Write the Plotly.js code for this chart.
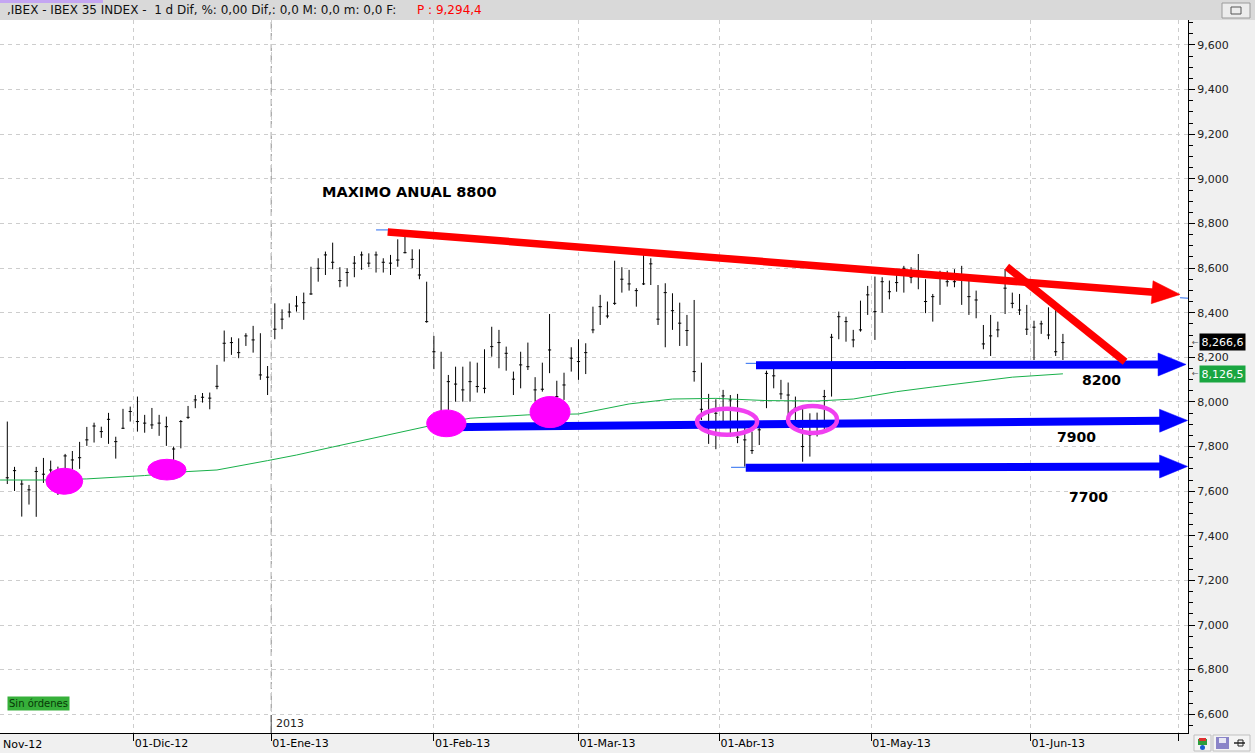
<!DOCTYPE html>
<html>
<head>
<meta charset="utf-8">
<script src="https://cdn.plot.ly/plotly-3.0.1.min.js"></script>
<style>html,body{margin:0;padding:0;background:#f0f0f0;}#chart{width:1255px;height:753px;}</style>
</head>
<body>
<div id="chart"></div>
<script>
// ---- trading days shown (categories) ----
const dates = [
'2012-11-07','2012-11-08','2012-11-09','2012-11-12','2012-11-13','2012-11-14','2012-11-15','2012-11-16','2012-11-19','2012-11-20','2012-11-21','2012-11-22','2012-11-23','2012-11-26','2012-11-27','2012-11-28','2012-11-29','2012-11-30',
'2012-12-03','2012-12-04','2012-12-05','2012-12-06','2012-12-07','2012-12-10','2012-12-11','2012-12-12','2012-12-13','2012-12-14','2012-12-17','2012-12-18','2012-12-19','2012-12-20','2012-12-21','2012-12-24','2012-12-27','2012-12-28','2012-12-31',
'2013-01-02','2013-01-03','2013-01-04','2013-01-07','2013-01-08','2013-01-09','2013-01-10','2013-01-11','2013-01-14','2013-01-15','2013-01-16','2013-01-17','2013-01-18','2013-01-21','2013-01-22','2013-01-23','2013-01-24','2013-01-25','2013-01-28','2013-01-29','2013-01-30','2013-01-31',
'2013-02-01','2013-02-04','2013-02-05','2013-02-06','2013-02-07','2013-02-08','2013-02-11','2013-02-12','2013-02-13','2013-02-14','2013-02-15','2013-02-18','2013-02-19','2013-02-20','2013-02-21','2013-02-22','2013-02-25','2013-02-26','2013-02-27','2013-02-28',
'2013-03-01','2013-03-04','2013-03-05','2013-03-06','2013-03-07','2013-03-08','2013-03-11','2013-03-12','2013-03-13','2013-03-14','2013-03-15','2013-03-18','2013-03-19','2013-03-20','2013-03-21','2013-03-22','2013-03-25','2013-03-26','2013-03-27','2013-03-28',
'2013-04-02','2013-04-03','2013-04-04','2013-04-05','2013-04-08','2013-04-09','2013-04-10','2013-04-11','2013-04-12','2013-04-15','2013-04-16','2013-04-17','2013-04-18','2013-04-19','2013-04-22','2013-04-23','2013-04-24','2013-04-25','2013-04-26','2013-04-29','2013-04-30',
'2013-05-02','2013-05-03','2013-05-06','2013-05-07','2013-05-08','2013-05-09','2013-05-10','2013-05-13','2013-05-14','2013-05-15','2013-05-16','2013-05-17','2013-05-20','2013-05-21','2013-05-22','2013-05-23','2013-05-24','2013-05-27','2013-05-28','2013-05-29','2013-05-30','2013-05-31',
'2013-06-03','2013-06-04','2013-06-05','2013-06-06','2013-06-07'
];
// trading days of the axis outside the data (before / after)
const leadDates = ['2012-11-01','2012-11-02','2012-11-05','2012-11-06'];
const trailDates = ['2013-06-10','2013-06-11','2013-06-12','2013-06-13','2013-06-14','2013-06-17','2013-06-18','2013-06-19','2013-06-20','2013-06-21','2013-06-24','2013-06-25','2013-06-26','2013-06-27','2013-06-28','2013-07-01'];

// ---- daily bars (high / low / close) ----
const high = [
7912,7709,7650,7628,7709,7749,7737,7710,7767,7780,7821,7888,7907,7889,7951,7844,7969,7979,
8024,7942,7973,7942,7934,7800,7919,7982,8031,8040,8042,8166,8320,8290,8285,8308,8341,8308,8161,
8442,8415,8442,8475,8490,8606,8644,8674,8714,8604,8599,8654,8674,8666,8674,8644,8659,8729,8744,8684,8684,8539,
8296,8225,8121,8158,8158,8181,8176,8236,8337,8323,8248,8136,8225,8266,8111,8176,8394,8095,8131,8245,
8281,8263,8427,8480,8450,8633,8604,8592,8510,8659,8644,8524,8532,8487,8445,8390,8457,8176,8036,8012,
8054,8031,8036,7912,7867,7907,8140,8151,8099,8087,8024,7972,7949,7952,8054,8305,8405,8382,8323,8454,8520,
8562,8559,8544,8574,8610,8604,8663,8550,8484,8588,8588,8595,8610,8544,8499,8345,8390,8360,8595,8490,8484,8435,
8364,8364,8424,8412,8305
];
const low = [
7632,7601,7486,7540,7485,7637,7623,7583,7677,7695,7700,7803,7818,7839,7812,7746,7879,7912,
7867,7862,7879,7848,7803,7740,7792,7924,7972,7997,7967,8057,8181,8211,8196,8251,8221,8099,8031,
8281,8326,8379,8405,8368,8480,8539,8569,8595,8514,8517,8559,8592,8604,8580,8580,8569,8606,8666,8599,8550,8355,
8147,7900,7964,8001,8001,8001,8042,8039,8203,8151,8140,8031,8061,8143,8001,8046,8129,7990,8009,8136,
8099,8125,8308,8345,8375,8435,8490,8499,8427,8524,8524,8345,8245,8323,8251,8251,8091,7919,7812,7788,
7887,7844,7815,7710,7767,7807,7972,8061,8012,7942,7882,7732,7755,7845,7878,8024,8281,8270,8245,8315,8390,
8278,8400,8460,8494,8490,8532,8505,8398,8360,8435,8517,8514,8435,8390,8375,8236,8206,8290,8394,8420,8390,8300,
8188,8305,8281,8206,8188
];
const close = [
7660,7692,7632,7606,7688,7676,7695,7595,7758,7740,7750,7830,7892,7867,7922,7822,7882,7957,
7912,7905,7897,7905,7889,7789,7912,7931,8009,8021,8017,8070,8263,8266,8221,8296,8278,8121,8111,
8326,8371,8403,8430,8445,8484,8599,8659,8626,8544,8580,8622,8659,8622,8659,8626,8622,8636,8669,8639,8569,8360,
8225,7930,8091,8080,8054,8091,8069,8061,8248,8266,8218,8102,8166,8158,8054,8057,8233,8024,8076,8196,
8181,8221,8323,8427,8385,8442,8550,8529,8499,8529,8619,8371,8490,8409,8353,8320,8136,7967,7860,7949,
8027,8009,7842,7830,7782,7875,8128,8117,8036,8031,7972,7800,7852,7889,8024,8290,8382,8360,8278,8323,8480,
8405,8539,8494,8535,8599,8559,8577,8450,8472,8565,8539,8539,8569,8472,8457,8260,8296,8323,8510,8442,8412,8326,
8335,8350,8300,8225,8266
];

// ---- moving average (green line), read at these days ----
const maDates = ['2012-11-06','2012-11-07','2012-11-14','2012-11-22','2012-12-04','2012-12-12','2012-12-18','2012-12-31','2013-01-07','2013-01-14','2013-01-21','2013-01-28','2013-02-01','2013-02-08','2013-02-20','2013-03-01','2013-03-12','2013-03-20','2013-03-28','2013-04-10','2013-04-19','2013-04-26','2013-05-07','2013-05-14','2013-05-21','2013-05-29','2013-06-07'];
const maValues = [7650,7650,7650,7655,7670,7688,7695,7737,7762,7798,7834,7870,7897,7927,7942,7946,7991,8013,8016,8006,8004,8013,8046,8067,8088,8111,8126];

// ---- axis ticks ----
const tickDates = ['2012-12-01','2013-01-01','2013-02-01','2013-03-01','2013-04-01','2013-05-01','2013-06-01','2013-07-01'];
const tickLabels = ['01-Dic-12','01-Ene-13','01-Feb-13','01-Mar-13','01-Abr-13','01-May-13','01-Jun-13',''];
const lastPrice = 8266.6, maLast = 8126.5;

// position of a day on the trading-day axis
const calendar = leadDates.concat(dates, trailDates);
const off = leadDates.length;
function xpos(d){
  const i = calendar.indexOf(d);
  if (i >= 0) return i - off;
  const j = calendar.findIndex(c => c > d);
  return j - off - 0.5;
}
const xs = dates.map(xpos);

const XR = [-1.01, 163.3], YR = [6516, 9712];
const PW = 1188, PH = 713;
const kx = PW / (XR[1]-XR[0]), ky = PH / (YR[1]-YR[0]);

// ---- hand-drawn analysis objects ----
const lines = [
  {x0:52.61, y0:8762, x1:162.2, y1:8482, color:'#ff0000', w:7.5, head:true},
  {x0:103.55, y0:8164, x1:163.03, y1:8168, color:'#0000ff', w:8, head:true},
  {x0:61.23, y0:7887, x1:163.24, y1:7917, color:'#0000ff', w:8, head:true},
  {x0:102.13, y0:7705, x1:163.24, y1:7711, color:'#0000ff', w:8, head:true},
  {x0:138.23, y0:8606, x1:154.6, y1:8180, color:'#ff0000', w:7.5, head:false}
];
const thinLines = [
  {x0:51.0, y0:8771, x1:52.66, y1:8771},
  {x0:162.2, y0:8467, x1:163.3, y1:8465},
  {x0:102.13, y0:8173, x1:103.55, y1:8173},
  {x0:100.1, y0:7707, x1:102.13, y1:7707}
];
const ellipses = [
  {x0:5.35, x1:10.43, y0:7586, y1:7703, fill:true},
  {x0:19.42, x1:24.72, y0:7650, y1:7743, fill:true},
  {x0:58.01, x1:63.44, y0:7844, y1:7964, fill:true},
  {x0:72.3, x1:77.83, y0:7885, y1:8024, fill:true},
  {x0:95.4, x1:103.7, y0:7853, y1:7970, fill:false},
  {x0:107.98, x1:114.76, y0:7861, y1:7982, fill:false}
];

const shapes = [];
// header bar
shapes.push({type:'rect', xref:'paper', yref:'paper', x0:0, x1:1255/PW, y0:1, y1:733/PH, fillcolor:'#d9d9d9', line:{width:0}, layer:'below'});
shapes.push({type:'rect', xref:'paper', yref:'paper', x0:0, x1:103/PW, y0:730/PH, y1:733/PH, fillcolor:'#c4a6f2', line:{width:0}});
shapes.push({type:'rect', xref:'paper', yref:'paper', x0:1222/PW, x1:1250/PW, y0:(733-18)/PH, y1:(733-3)/PH, fillcolor:'#ececec', line:{width:1,color:'#9a9a9a'}});
shapes.push({type:'rect', xref:'paper', yref:'paper', x0:1231/PW, x1:1241/PW, y0:(733-14)/PH, y1:(733-7)/PH, fillcolor:'rgba(0,0,0,0)', line:{width:1,color:'#555'}});
// year separator
shapes.push({type:'line', xref:'x', yref:'paper', x0:xpos('2013-01-01'), x1:xpos('2013-01-01'), y0:0, y1:1, line:{color:'#8c8c8c', width:1, dash:'7px,4px'}, layer:'below'});
shapes.push({type:'line', xref:'x', yref:'paper', x0:xpos('2013-01-01'), x1:xpos('2013-01-01'), y0:0, y1:18/PH, line:{color:'#555', width:1}});
// bottom-right toolbar icons
shapes.push({type:'rect', xref:'paper', yref:'paper', x0:1194/PW, x1:1211/PW, y0:-18/PH, y1:-2/PH, fillcolor:'#f4f4f4', line:{width:1,color:'#c0c0c0'}});
shapes.push({type:'rect', xref:'paper', yref:'paper', x0:1198/PW, x1:1207/PW, y0:-12/PH, y1:-6/PH, fillcolor:'#2e9e3e', line:{width:0}});
shapes.push({type:'rect', xref:'paper', yref:'paper', x0:1199/PW, x1:1206/PW, y0:-8/PH, y1:-5/PH, fillcolor:'#e03030', line:{width:0}});
shapes.push({type:'circle', xref:'paper', yref:'paper', x0:1200/PW, x1:1205/PW, y0:-17/PH, y1:-12/PH, fillcolor:'#1a5fd0', line:{width:0}});
shapes.push({type:'rect', xref:'paper', yref:'paper', x0:1213/PW, x1:1250/PW, y0:-18/PH, y1:-2/PH, fillcolor:'#f4f4f4', line:{width:1,color:'#c0c0c0'}});
shapes.push({type:'rect', xref:'paper', yref:'paper', x0:1216/PW, x1:1229/PW, y0:-16/PH, y1:-4/PH, fillcolor:'#8a84c8', line:{width:0}});
shapes.push({type:'rect', xref:'paper', yref:'paper', x0:1219/PW, x1:1226/PW, y0:-10/PH, y1:-5/PH, fillcolor:'#e8e8f4', line:{width:0}});
shapes.push({type:'line', xref:'paper', yref:'paper', x0:1234/PW, x1:1245/PW, y0:-10/PH, y1:-10/PH, line:{width:1.5,color:'#222'}});
shapes.push({type:'rect', xref:'paper', yref:'paper', x0:1238/PW, x1:1243/PW, y0:-13/PH, y1:-7/PH, fillcolor:'rgba(0,0,0,0)', line:{width:1,color:'#222'}});

// thick trend lines with arrow heads
lines.forEach(l => {
  const dx = (l.x1-l.x0)*kx, dy = (l.y1-l.y0)*ky;
  const len = Math.hypot(dx, dy), ux = dx/len, uy = dy/len;
  if (l.head) {
    const L = 28, H = 11.5;
    const bx = l.x1 - ux*L/kx, by = l.y1 - uy*L/ky;
    const nx = -uy, ny = ux;
    shapes.push({type:'line', x0:l.x0, y0:l.y0, x1:bx + ux*2/kx, y1:by + uy*2/ky, line:{color:l.color, width:l.w}});
    const c1x = bx + nx*H/kx, c1y = by + ny*H/ky, c2x = bx - nx*H/kx, c2y = by - ny*H/ky;
    shapes.push({type:'path', path:`M${l.x1},${l.y1} L${c1x},${c1y} L${c2x},${c2y} Z`, fillcolor:l.color, line:{color:l.color, width:0.5}});
  } else {
    shapes.push({type:'line', x0:l.x0, y0:l.y0, x1:l.x1, y1:l.y1, line:{color:l.color, width:l.w}});
  }
});
thinLines.forEach(t => shapes.push({type:'line', x0:t.x0, y0:t.y0, x1:t.x1, y1:t.y1, line:{color:'#2a6cf0', width:1}}));
ellipses.forEach(e => {
  if (e.fill) shapes.push({type:'circle', x0:e.x0, x1:e.x1, y0:e.y0, y1:e.y1, fillcolor:'#ff00ff', line:{color:'#ff00ff', width:1}});
  else shapes.push({type:'circle', x0:e.x0, x1:e.x1, y0:e.y0, y1:e.y1, fillcolor:'rgba(0,0,0,0)', line:{color:'#f040f0', width:4.5}});
});

const FONT = 'DejaVu Sans, Liberation Sans, sans-serif';
const annotations = [
  {xref:'paper', yref:'paper', x:5/PW, y:(733-10)/PH, xanchor:'left', yanchor:'middle', showarrow:false,
   text:',IBEX - IBEX 35 INDEX -&nbsp;&nbsp;1 d Dif, %: 0,00 Dif,: 0,0 M: 0,0 m: 0,0 F:', font:{family:FONT, size:12, color:'#111'}},
  {xref:'paper', yref:'paper', x:415/PW, y:(733-10)/PH, xanchor:'left', yanchor:'middle', showarrow:false,
   text:'P : 9,294,4', font:{family:FONT, size:12, color:'#ff0000'}},
  {xref:'paper', yref:'paper', x:320/PW, y:(733-192)/PH, xanchor:'left', yanchor:'middle', showarrow:false,
   text:'MAXIMO ANUAL 8800', font:{family:'DejaVu Sans', size:14.5, color:'#000', weight:'bold'}},
  {xref:'paper', yref:'paper', x:1080/PW, y:(733-380)/PH, xanchor:'left', yanchor:'middle', showarrow:false,
   text:'8200', font:{family:'DejaVu Sans', size:14, color:'#000', weight:'bold'}},
  {xref:'paper', yref:'paper', x:1055/PW, y:(733-437)/PH, xanchor:'left', yanchor:'middle', showarrow:false,
   text:'7900', font:{family:'DejaVu Sans', size:14, color:'#000', weight:'bold'}},
  {xref:'paper', yref:'paper', x:1067/PW, y:(733-497)/PH, xanchor:'left', yanchor:'middle', showarrow:false,
   text:'7700', font:{family:'DejaVu Sans', size:14, color:'#000', weight:'bold'}},
  {xref:'paper', yref:'paper', x:274/PW, y:(733-723)/PH, xanchor:'left', yanchor:'middle', showarrow:false,
   text:'2013', font:{family:FONT, size:11, color:'#222'}},
  {xref:'paper', yref:'paper', x:7/PW, y:(733-703.5)/PH, xanchor:'left', yanchor:'middle', showarrow:false,
   text:'Sin órdenes', bgcolor:'#36b03a', borderpad:1, font:{family:FONT, size:10, color:'#073807'}},
  {xref:'paper', yref:'paper', x:1/PW, y:-11/PH, xanchor:'left', yanchor:'middle', showarrow:false,
   text:'Nov-12', font:{family:FONT, size:11, color:'#000'}},
  {xref:'paper', yref:'y', x:1199/PW, y:lastPrice, xanchor:'left', yanchor:'middle', showarrow:false,
   text:'8,266,6', bgcolor:'#000', borderpad:1.5, font:{family:FONT, size:11, color:'#fff'}},
  {xref:'paper', yref:'y', x:1199/PW, y:maLast, xanchor:'left', yanchor:'middle', showarrow:false,
   text:'8,126,5', bgcolor:'#1aa641', borderpad:1.5, font:{family:FONT, size:11, color:'#fff'}},
  {xref:'paper', yref:'y', x:1190/PW, y:lastPrice, xanchor:'left', yanchor:'middle', showarrow:false,
   text:'←', font:{family:FONT, size:8, color:'#555'}},
  {xref:'paper', yref:'y', x:1190/PW, y:maLast, xanchor:'left', yanchor:'middle', showarrow:false,
   text:'←', font:{family:FONT, size:8, color:'#555'}}
];

const traces = [
  {type:'scatter', mode:'lines', x:maDates.map(xpos), y:maValues, line:{color:'#18b04a', width:1}, hoverinfo:'skip'},
  {type:'ohlc', x:xs, open:close, high:high, low:low, close:close, tickwidth:0.22,
   increasing:{line:{color:'#000', width:1}}, decreasing:{line:{color:'#000', width:1}}, hoverinfo:'skip'}
];

const layout = {
  width:1255, height:753,
  margin:{l:0, r:67, t:20, b:20, pad:0},
  paper_bgcolor:'#f0f0f0', plot_bgcolor:'#ffffff',
  showlegend:false,
  font:{family:FONT, size:11, color:'#222'},
  xaxis:{range:XR, type:'linear', tickmode:'array', tickvals:tickDates.map(xpos), ticktext:tickLabels,
    ticks:'outside', ticklen:7, tickcolor:'#000', tickwidth:1,
    showline:true, linecolor:'#000', linewidth:1, mirror:false,
    showgrid:true, gridcolor:'#cdcdcd', griddash:'4px,4px', gridwidth:1, zeroline:false,
    ticklabelposition:'outside right', tickfont:{family:FONT, size:11, color:'#000'},
    rangeslider:{visible:false}, fixedrange:true},
  yaxis:{range:YR, side:'right', tickmode:'linear', tick0:0, dtick:200, tickformat:',d',
    ticks:'outside', ticklen:6, tickcolor:'#000', tickwidth:1,
    minor:{dtick:50, tick0:0, ticks:'outside', ticklen:4, tickcolor:'#000', showgrid:false},
    showline:true, linecolor:'#000', linewidth:1,
    showgrid:true, gridcolor:'#cdcdcd', griddash:'4px,4px', gridwidth:1, zeroline:false,
    tickfont:{family:FONT, size:11, color:'#222'}, fixedrange:true},
  shapes:shapes,
  annotations:annotations
};

Plotly.newPlot('chart', traces, layout, {displayModeBar:false, staticPlot:true});
</script>
</body>
</html>
